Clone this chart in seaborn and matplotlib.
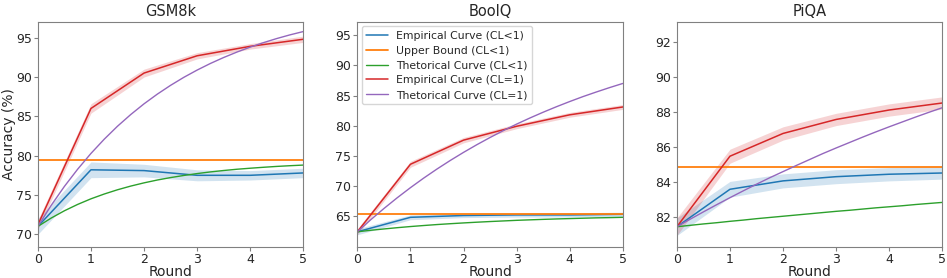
import numpy as np
import matplotlib
matplotlib.use("Agg")
import matplotlib.pyplot as plt
import seaborn as sns

rounds = [0, 1, 2, 3, 4, 5]
fine_rounds = [0, 0.25, 0.5, 0.75, 1, 1.25, 1.5, 1.75, 2, 2.25, 2.5,
               2.75, 3, 3.25, 3.5, 3.75, 4, 4.25, 4.5, 4.75, 5]
titles = ["GSM8k", "BoolQ", "PiQA"]

# empirical curves (CL<1) and their band half-widths
emp_cl_lt1 = {
    "GSM8k": [71.0, 78.2, 78.1, 77.5, 77.5, 77.8],
    "BoolQ": [62.4, 64.8, 65.1, 65.2, 65.2, 65.3],
    "PiQA": [81.45, 83.59, 84.07, 84.31, 84.45, 84.52],
}
emp_cl_lt1_err = {
    "GSM8k": [1.0, 1.0, 0.8, 0.7, 0.6, 0.6],
    "BoolQ": [0.5, 0.4, 0.35, 0.35, 0.35, 0.35],
    "PiQA": [0.5, 0.45, 0.4, 0.4, 0.38, 0.35],
}
upper_bound = {"GSM8k": 79.4, "BoolQ": 65.4, "PiQA": 84.89}

# theoretical curves, read at quarter rounds
theo_cl_lt1 = {
    "GSM8k": [71.0, 72.06, 72.99, 73.80, 74.51, 75.12, 75.66, 76.13, 76.54, 76.90, 77.21,
              77.48, 77.72, 77.93, 78.11, 78.27, 78.40, 78.52, 78.63, 78.72, 78.80],
    "BoolQ": [62.4, 62.65, 62.87, 63.08, 63.27, 63.44, 63.60, 63.74, 63.87, 63.99, 64.10,
              64.20, 64.30, 64.38, 64.46, 64.53, 64.59, 64.65, 64.71, 64.75, 64.80],
    "PiQA": [81.45, 81.53, 81.61, 81.68, 81.76, 81.83, 81.91, 81.98, 82.05, 82.12, 82.19,
             82.26, 82.33, 82.39, 82.46, 82.53, 82.59, 82.65, 82.72, 82.78, 82.84],
}

emp_cl_eq1 = {
    "GSM8k": [71.2, 86.0, 90.5, 92.7, 93.9, 94.8],
    "BoolQ": [62.4, 73.6, 77.6, 79.9, 81.8, 83.1],
    "PiQA": [81.45, 85.48, 86.78, 87.58, 88.12, 88.52],
}
emp_cl_eq1_err = {
    "GSM8k": [0.6, 0.6, 0.5, 0.4, 0.35, 0.4],
    "BoolQ": [0.5, 0.5, 0.45, 0.4, 0.4, 0.4],
    "PiQA": [0.5, 0.4, 0.38, 0.35, 0.35, 0.35],
}

theo_cl_eq1 = {
    "GSM8k": [71.0, 73.67, 76.09, 78.28, 80.28, 82.09, 83.74, 85.23, 86.59, 87.82, 88.94,
              89.96, 90.88, 91.72, 92.48, 93.17, 93.80, 94.37, 94.89, 95.36, 95.78],
    "BoolQ": [62.4, 64.39, 66.26, 68.04, 69.72, 71.31, 72.81, 74.23, 75.57, 76.84, 78.04,
              79.18, 80.26, 81.27, 82.23, 83.14, 84.00, 84.82, 85.58, 86.31, 87.00],
    "PiQA": [81.45, 81.88, 82.30, 82.71, 83.11, 83.50, 83.88, 84.25, 84.60, 84.95, 85.29,
             85.63, 85.95, 86.26, 86.57, 86.87, 87.16, 87.44, 87.72, 87.99, 88.25],
}

ylims = {"GSM8k": (68.4, 97.0), "BoolQ": (59.9, 97.2), "PiQA": (80.3, 93.15)}
yticks = {
    "GSM8k": [70, 75, 80, 85, 90, 95],
    "BoolQ": [65, 70, 75, 80, 85, 90, 95],
    "PiQA": [82, 84, 86, 88, 90, 92],
}

sns.set_style("ticks")
pal = sns.color_palette("tab10")
c_blue, c_orange, c_green, c_red, c_purple = pal[0], pal[1], pal[2], pal[3], pal[4]

fig, axes = plt.subplots(1, 3, figsize=(9.47, 2.78), dpi=100)
fig.subplots_adjust(left=0.040, right=0.995, top=0.921, bottom=0.112, wspace=0.204)

for ax, name in zip(axes, titles):
    emp1 = np.array(emp_cl_lt1[name])
    err1 = np.array(emp_cl_lt1_err[name])
    emp2 = np.array(emp_cl_eq1[name])
    err2 = np.array(emp_cl_eq1_err[name])

    sns.lineplot(x=rounds, y=emp1, ax=ax, color=c_blue, lw=1.1,
                 label="Empirical Curve (CL<1)")
    ax.fill_between(rounds, emp1 - err1, emp1 + err1, color=c_blue, alpha=0.2, lw=0)
    ax.axhline(upper_bound[name], color=c_orange, lw=1.3, label="Upper Bound (CL<1)")
    sns.lineplot(x=fine_rounds, y=theo_cl_lt1[name], ax=ax, color=c_green, lw=1.0,
                 label="Thetorical Curve (CL<1)")
    sns.lineplot(x=rounds, y=emp2, ax=ax, color=c_red, lw=1.1,
                 label="Empirical Curve (CL=1)")
    ax.fill_between(rounds, emp2 - err2, emp2 + err2, color=c_red, alpha=0.2, lw=0)
    sns.lineplot(x=fine_rounds, y=theo_cl_eq1[name], ax=ax, color=c_purple, lw=1.0,
                 label="Thetorical Curve (CL=1)")

    ax.set_xlim(0, 5)
    ax.set_ylim(*ylims[name])
    ax.set_yticks(yticks[name])
    ax.set_xticks(rounds)
    ax.tick_params(labelsize=9, length=3, color="0.5", pad=1.5)
    for s in ax.spines.values():
        s.set_color("0.5")
    ax.set_title(name, fontsize=10.5, pad=4)
    ax.set_xlabel("Round", fontsize=10, labelpad=-1)
    if name == "BoolQ":
        ax.legend(loc="upper left", fontsize=7.8, frameon=True, handlelength=2.0,
                  borderaxespad=0.4, labelspacing=0.45)
    else:
        ax.get_legend().remove()

axes[0].set_ylabel("Accuracy (%)", fontsize=10, labelpad=0)

fig.savefig("out.png", dpi=100)
